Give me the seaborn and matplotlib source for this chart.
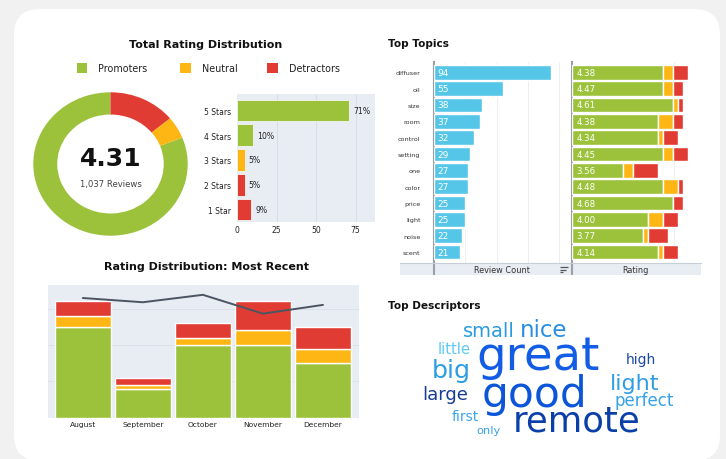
import numpy as np
import pandas as pd
import matplotlib
matplotlib.use("Agg")
import matplotlib.pyplot as plt
import seaborn as sns
from matplotlib.patches import FancyBboxPatch, Rectangle

# ---------------- data ----------------
segments = ["Promoters", "Neutral", "Detractors"]
segment_share = [81, 5, 14]
avg_rating = "4.31"
review_total = "1,037 Reviews"

star_labels = ["5 Stars", "4 Stars", "3 Stars", "2 Stars", "1 Star"]
star_pct = [71, 10, 5, 5, 9]
star_group = ["Promoters", "Promoters", "Neutral", "Detractors", "Detractors"]
star_ticks = [0, 25, 50, 75]

months = ["August", "September", "October", "November", "December"]
month_promoters = [25, 8, 20, 20, 15]
month_neutral = [3, 1, 2, 4, 4]
month_detractors = [4, 2, 4, 8, 6]
month_rating = [4.51, 4.35, 4.63, 3.92, 4.25]

topics = ["diffuser", "oil", "size", "room", "control", "setting",
          "one", "color", "price", "light", "noise", "scent"]
topic_counts = [94, 55, 38, 37, 32, 29, 27, 27, 25, 25, 22, 21]
topic_rating = ["4.38", "4.47", "4.61", "4.38", "4.34", "4.45",
                "3.56", "4.48", "4.68", "4.00", "3.77", "4.14"]
topic_promoters = [91, 91, 101, 86, 86, 91, 51, 91, 101, 76, 71, 86]
topic_neutral = [10, 10, 5, 15, 5, 10, 10, 15, 0, 15, 5, 5]
topic_detractors = [15, 10, 5, 10, 15, 15, 25, 5, 10, 15, 20, 15]

words = ["great", "good", "remote", "nice", "big", "light", "small",
         "large", "perfect", "little", "high", "first", "only"]
word_weight = [33.5, 30.5, 25.5, 16.5, 18.2, 16, 14,
               13, 12, 10.6, 10, 10, 8.2]

# ---------------- style / layout ----------------
GREEN, YELLOW, RED = "#9cc23b", "#fdb614", "#e03c34"
BLUE = "#56c6e8"
PANEL = "#e8ecf3"
seg_color = dict(zip(segments, [GREEN, YELLOW, RED]))
word_colors = ["#135de6", "#0b55d9", "#0b3fa8", "#2a8ee2", "#2b9de3", "#2f9de6",
               "#2a9ae0", "#173c94", "#34a3ea", "#5ccaf2", "#1a47a8", "#3ba6ea", "#3aa0e6"]
word_pos = [(476, 370), (481.7, 406.7), (512.7, 431.7), (520, 336.7), (431.7, 378.3),
            (610, 390), (463, 336.7), (422.7, 400), (615, 405.7), (437.7, 354.3),
            (626, 364), (451.7, 421), (476, 434)]

sns.set_theme(style="white")
plt.rcParams["font.family"] = ["DejaVu Sans"]

W, H = 726, 460
fig = plt.figure(figsize=(W / 100, H / 100), dpi=100)
fig.patch.set_facecolor("#f1f1f1")


def ax_px(x0, y0, x1, y1, **kw):
    return fig.add_axes([x0 / W, 1 - y1 / H, (x1 - x0) / W, (y1 - y0) / H], **kw)


# background card
bg = ax_px(0, 0, W, H)
bg.set_xlim(0, W)
bg.set_ylim(H, 0)
bg.axis("off")
bg.add_patch(FancyBboxPatch((16, 12), 702, 452, boxstyle="round,pad=0,rounding_size=26",
                            fc="#e6e6e6", ec="none", alpha=0.6))
bg.add_patch(FancyBboxPatch((14, 10), 706, 452, boxstyle="round,pad=0,rounding_size=26",
                            fc="white", ec="none"))

# ---------------- donut ----------------
axd = ax_px(33.3, 93.3, 187.7, 236.7)
axd.pie(segment_share, colors=[seg_color[s] for s in segments], startangle=90,
        counterclock=True, wedgeprops=dict(width=0.31, edgecolor="none"))
axd.set_aspect("auto")
axd.set_xlim(-1, 1)
axd.set_ylim(-1, 1)
axd.axis("off")

# ---------------- star distribution ----------------
axs = ax_px(237, 95, 375, 223)
axs.set_facecolor(PANEL)
sns.barplot(x=star_pct, y=star_labels, hue=star_labels, orient="h", legend=False,
            palette=[seg_color[g] for g in star_group], saturation=1, width=0.88,
            edgecolor="#f4f4f4", linewidth=0.6, ax=axs, zorder=3)
axs.set_xlim(0, 87.3)
axs.set_ylim(4.51, -0.67)
axs.set_xticks(star_ticks)
axs.set_xticklabels([str(t) for t in star_ticks])
for t in star_ticks[1:]:
    axs.axvline(t, color="#d6dce6", lw=0.6, zorder=1)
axs.tick_params(axis="both", length=0, labelsize=5.5, colors="#222222")
axs.tick_params(axis="y", pad=4.3)
axs.tick_params(axis="x", pad=2)
axs.set_xlabel("")
axs.set_ylabel("")
for s in axs.spines.values():
    s.set_visible(False)
for i, v in enumerate(star_pct):
    axs.text(v + 2.5, i, f"{v}%", va="center", ha="left", fontsize=5.6, color="#222222")

# ---------------- most recent ----------------
axr = ax_px(48, 286, 359, 418.7)
axr.set_facecolor(PANEL)
x = np.arange(len(months))
b1 = np.array(month_promoters)
b2 = b1 + np.array(month_neutral)
axr.bar(x, month_promoters, width=0.93, color=GREEN, zorder=3)
axr.bar(x, month_neutral, bottom=b1, width=0.93, color=YELLOW, zorder=3)
axr.bar(x, month_detractors, bottom=b2, width=0.93, color=RED, zorder=3)
axr.set_xlim(-0.58, 4.6)
axr.set_ylim(0, 36.5)
for g in [10, 20, 30]:
    axr.axhline(g, color="#d9dfe8", lw=0.6, zorder=1)
axr.set_yticks([])
axr.set_xticks(x)
axr.set_xticklabels(months)
axr.tick_params(axis="x", length=0, labelsize=5.4, pad=2.5, colors="#222222")
for s in axr.spines.values():
    s.set_visible(False)
axr2 = axr.twinx()
sns.lineplot(x=x, y=month_rating, color="#4b5561", lw=1.4, ax=axr2, zorder=5)
axr2.set_ylim(0, 5)
axr2.set_xlim(-0.58, 4.6)
axr2.set_yticks([])
axr2.set_ylabel("")
for s in axr2.spines.values():
    s.set_visible(False)

# ---------------- top topics ----------------
SPINE = "#9aa0a8"
axc = ax_px(434.3, 62.7, 572.3, 264.3)
sns.barplot(x=topic_counts, y=topics, orient="h", color=BLUE, saturation=1, width=0.9,
            ax=axc, zorder=3)
axc.set_xlim(0, 110.8)
axc.set_ylim(11.69, -0.65)
for g in [25, 50, 75, 100]:
    axc.axvline(g, color="#ececec", lw=0.6, zorder=1)
axc.set_xticks([])
axc.set_xlabel("")
axc.set_ylabel("")
axc.tick_params(axis="y", length=0, labelsize=4.6, pad=10, colors="#333333")
for k, s in axc.spines.items():
    s.set_visible(k == "left")
axc.spines["left"].set_color(SPINE)
axc.spines["left"].set_linewidth(1.5)
for i, v in enumerate(topic_counts):
    axc.text(2.2, i, str(v), va="center", ha="left", color="white", fontsize=6.5, zorder=4)

axg = ax_px(572.3, 62.7, 700.7, 264.3)
yy = np.arange(len(topics))
tp = np.array(topic_promoters)
tn = tp + np.array(topic_neutral)
axg.barh(yy, topic_promoters, height=0.9, color=GREEN, zorder=3)
axg.barh(yy, topic_neutral, left=tp, height=0.9, color=YELLOW, zorder=3)
axg.barh(yy, topic_detractors, left=tn, height=0.9, color=RED, zorder=3)
axg.set_xlim(0, 128.4)
axg.set_ylim(11.69, -0.65)
axg.axvline(101.5, color="#ececec", lw=0.6, zorder=1)
axg.set_xticks([])
axg.set_yticks([])
for k, s in axg.spines.items():
    s.set_visible(k == "left")
axg.spines["left"].set_color(SPINE)
axg.spines["left"].set_linewidth(1.5)
for i, v in enumerate(topic_rating):
    axg.text(4.0, i, v, va="center", ha="left", color="white", fontsize=6.2, zorder=4)

# header row
axh = ax_px(400, 264.3, 700.7, 275.7)
axh.set_facecolor(PANEL)
axh.set_xlim(400, 700.7)
axh.set_ylim(275.7, 264.3)
axh.set_xticks([])
axh.set_yticks([])
for k, s in axh.spines.items():
    s.set_visible(k == "top")
axh.spines["top"].set_color("#c8cdd6")
axh.spines["top"].set_linewidth(0.8)
axh.axvline(434.3, color=SPINE, lw=1.5)
axh.axvline(572.3, color=SPINE, lw=1.5)
axh.text(502.5, 270.2, "Review Count", ha="center", va="center", fontsize=5.9, color="#333333")
axh.text(635, 270.2, "Rating", ha="center", va="center", fontsize=5.9, color="#333333")
for yl, xl in [(267.7, 567.7), (270.5, 565.5), (273.3, 563.0)]:
    axh.plot([560, xl], [yl, yl], color="#555555", lw=0.9, solid_capstyle="butt")

# ---------------- overlay texts ----------------
ov = ax_px(0, 0, W, H, zorder=10)
ov.set_xlim(0, W)
ov.set_ylim(H, 0)
ov.axis("off")
ov.patch.set_alpha(0)

ov.text(206, 45.5, "Total Rating Distribution", ha="center", va="center",
        fontsize=8, fontweight="bold", color="#111111")
ov.text(206, 267.5, "Rating Distribution: Most Recent", ha="center", va="center",
        fontsize=8, fontweight="bold", color="#111111")
ov.text(387.5, 44, "Top Topics", ha="left", va="center",
        fontsize=7.6, fontweight="bold", color="#111111")
ov.text(387.5, 306, "Top Descriptors", ha="left", va="center",
        fontsize=7.6, fontweight="bold", color="#111111")

# legend
for (sx, tx), s in zip([(76.7, 98.3), (180, 201.7), (267.3, 289.3)], segments):
    ov.add_patch(Rectangle((sx, 64.2), 10.6, 10.0, fc=seg_color[s], ec="none"))
    ov.text(tx, 69.3, s, ha="left", va="center", fontsize=6.9, color="#222222")

# donut centre
ov.text(110.5, 159, avg_rating, ha="center", va="center", fontsize=18,
        fontweight="bold", color="#111111")
ov.text(110.5, 185, review_total, ha="center", va="center", fontsize=6.1, color="#444444")

# word cloud
for w, s, c, (px, py) in zip(words, word_weight, word_colors, word_pos):
    ov.text(px, py, w, ha="left", va="baseline", fontsize=s, color=c)

fig.savefig("out.png", dpi=100)
